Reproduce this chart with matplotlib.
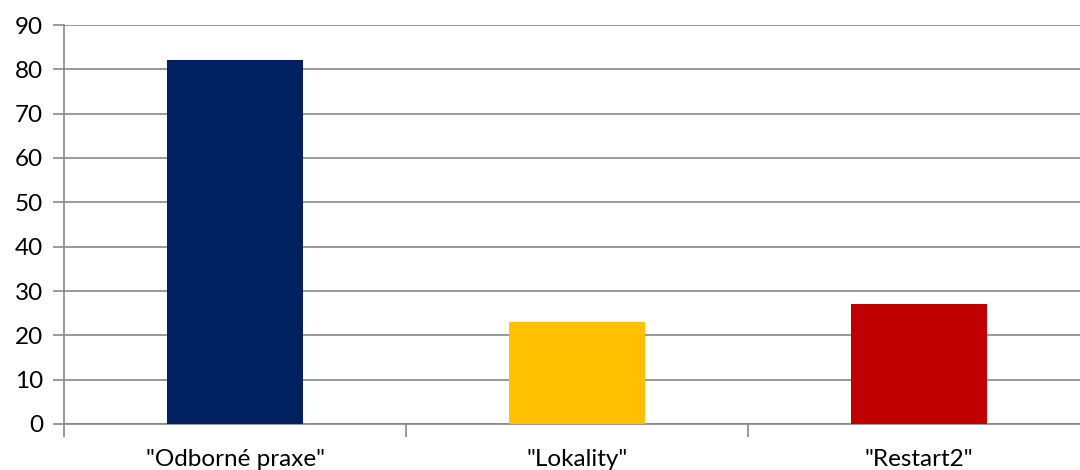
import matplotlib
matplotlib.use("Agg")
import matplotlib.pyplot as plt

categories = ['"Odborné praxe"', '"Lokality"', '"Restart2"']
values = [82, 23, 27]
colors = ["#002060", "#FFC000", "#C00000"]
yticks = [0, 10, 20, 30, 40, 50, 60, 70, 80, 90]

plt.rcParams['font.family'] = ['Lato', 'DejaVu Sans']

W, H = 1080, 470
fig = plt.figure(figsize=(W / 100, H / 100), dpi=100)
left, right = 64, 1090
top, bottom = 25, 424
ax = fig.add_axes([left / W, 1 - bottom / H, (right - left) / W, (bottom - top) / H])

x = list(range(len(categories)))
ax.bar(x, values, width=0.4, color=colors, zorder=3)
ax.set_xlim(-0.5, 2.5)
ax.set_ylim(0, 90)
ax.set_yticks(yticks)
ax.set_yticklabels([str(v) for v in yticks])
ax.set_xticks([-0.5, 0.5, 1.5, 2.5])
ax.set_xticklabels([])
ax.set_xticks(x, minor=True)
ax.set_xticklabels(categories, minor=True)
ax.tick_params(axis='x', which='minor', length=0, pad=18, labelsize=17.5, labelcolor="#000000")
ax.tick_params(axis='x', which='major', length=9, width=1.2, color="#888888", direction='out')
ax.tick_params(axis='y', length=8, width=1.2, color="#888888", direction='out', labelsize=17.5, pad=7, labelcolor="#000000")
ax.grid(axis='y', color="#888888", linewidth=1.2, zorder=0)
ax.set_axisbelow(True)
for s in ['top', 'right']:
    ax.spines[s].set_visible(False)
for s in ['left', 'bottom']:
    ax.spines[s].set_color("#888888")
    ax.spines[s].set_linewidth(1.2)

fig.savefig("out.png", dpi=100)
